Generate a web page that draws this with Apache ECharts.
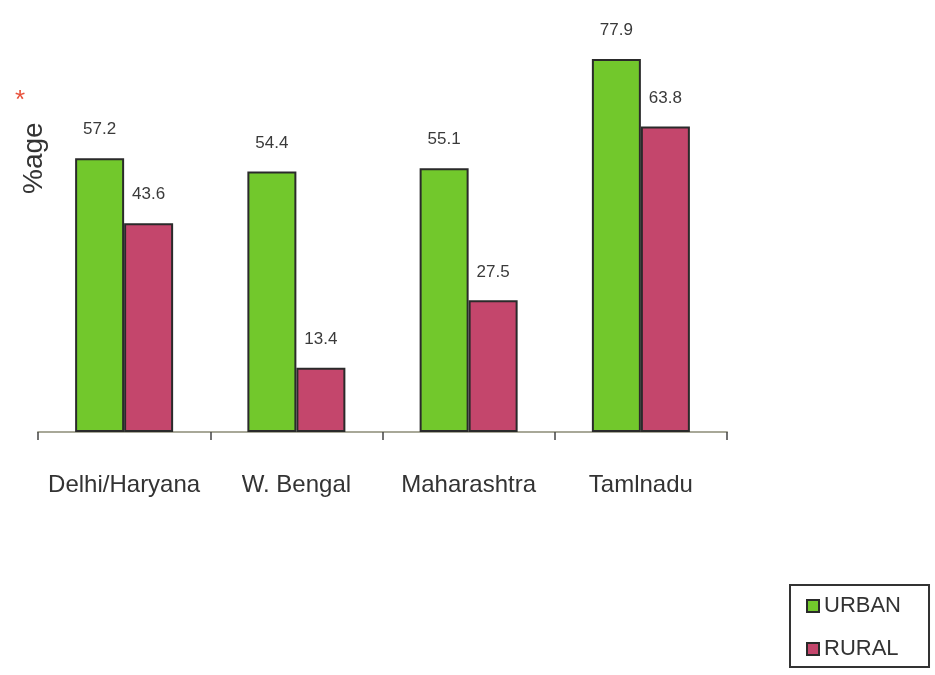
<!DOCTYPE html>
<html><head><meta charset="utf-8">
<script src="https://cdn.jsdelivr.net/npm/echarts@6/dist/echarts.min.js"></script>
<style>html,body{margin:0;padding:0;background:#fff}#c{width:935px;height:675px}</style>
</head><body><div id="c"></div>
<script>
const categories = ['Delhi/Haryana', 'W. Bengal', 'Maharashtra', 'Tamlnadu'];
const urban = [57.2, 54.4, 55.1, 77.9];
const rural = [43.6, 13.4, 27.5, 63.8];
const seriesNames = ['URBAN', 'RURAL'];
const font = '"Liberation Sans", Arial, sans-serif';
const chart = echarts.init(document.getElementById('c'));
const lbl = {show: true, position: 'top', distance: 20, fontFamily: font, fontSize: 17, color: '#3a3a3a'};
chart.setOption({
  animation: false,
  grid: {left: 38, right: 208, top: 49, bottom: 243},
  xAxis: {
    type: 'category', data: categories,
    axisLine: {lineStyle: {color: '#a8a898', width: 2}},
    axisTick: {show: true, interval: 0, length: 8, lineStyle: {color: '#444', width: 1.5}},
    axisLabel: {interval: 0, margin: 41, fontFamily: font, fontSize: 24, color: '#333'}
  },
  yAxis: {type: 'value', min: 0, max: 80, show: false, splitLine: {show: false}},
  legend: {
    orient: 'vertical', left: 790, top: 585,
    data: seriesNames, icon: 'rect', itemWidth: 12, itemHeight: 12, itemGap: 21,
    padding: [10, 28, 7, 16], borderColor: '#333', borderWidth: 2,
    textStyle: {fontFamily: font, fontSize: 22, color: '#333'}
  },
  graphic: [
    {type: 'text', left: 15, top: 88, style: {text: '*', fontSize: 26, fill: '#e8503a', fontFamily: font}},
    {type: 'text', x: 20, y: 194, rotation: Math.PI / 2, style: {text: '%age', fontSize: 28, fill: '#333', fontFamily: font}}
  ],
  series: [
    {name: seriesNames[0], type: 'bar', data: urban, barWidth: 49, barGap: '0%',
     itemStyle: {color: '#72c82c', borderColor: '#2a2a2a', borderWidth: 2}, label: lbl},
    {name: seriesNames[1], type: 'bar', data: rural, barWidth: 49,
     itemStyle: {color: '#c4466c', borderColor: '#2a2a2a', borderWidth: 2}, label: lbl}
  ]
});
</script></body></html>
